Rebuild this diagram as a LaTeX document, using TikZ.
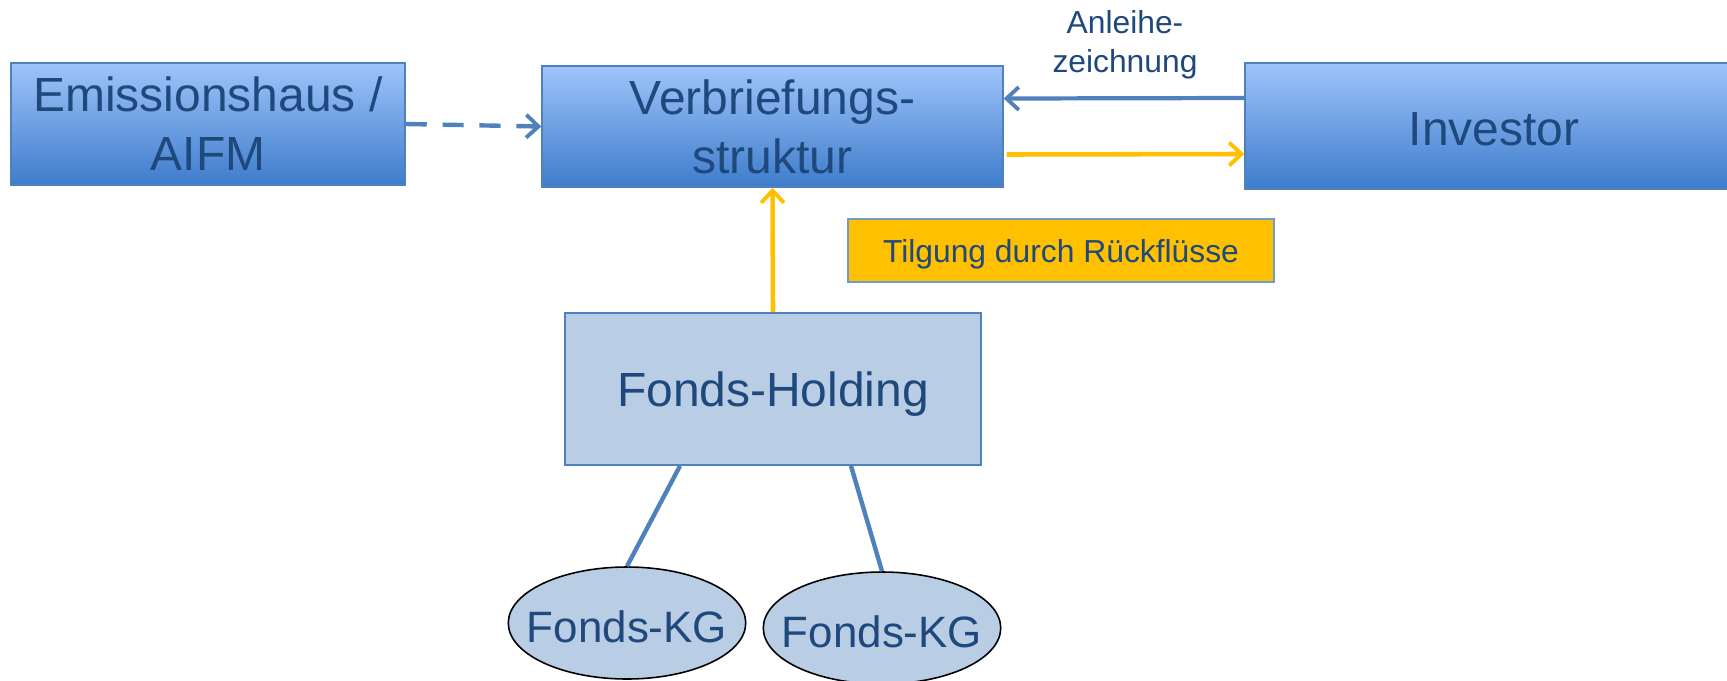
\documentclass[tikz,border=0pt]{standalone}
\usepackage{fontspec}
\setmainfont{Liberation Sans}
\usetikzlibrary{arrows.meta,shapes.geometric}
\definecolor{txt}{HTML}{1F497D}
\definecolor{accent}{HTML}{4F81BD}
\definecolor{gold}{HTML}{FFC000}
\definecolor{pale}{HTML}{B9CDE5}
\definecolor{gradtop}{HTML}{9EC4FA}
\definecolor{gradbot}{HTML}{3E7CCB}
\tikzset{
  bigtext/.style={font=\fontsize{27.3}{33.5}\selectfont, text=txt},
  gradbox/.style={rectangle, draw=accent, line width=0.8pt, top color=gradtop, bottom color=gradbot, inner sep=0pt, bigtext, align=center},
  palebox/.style={rectangle, draw=accent, line width=1pt, fill=pale, inner sep=0pt, bigtext},
  kgnode/.style={ellipse, draw=black, line width=0.9pt, fill=pale, inner sep=0pt,
    minimum width=4.75cm, minimum height=2.24cm, text=txt, font=\fontsize{25}{30}\selectfont,
    text height=22.2pt, text depth=0pt},
  notebox/.style={rectangle, draw=accent!80, line width=1pt, fill=gold, inner sep=0pt,
    minimum width=8.52cm, minimum height=1.26cm, text=txt, font=\fontsize{18.1}{22}\selectfont},
  tip/.style={-{Straight Barb[length=7pt,width=13pt,line width=2.2pt]}},
  bluearrow/.style={tip, draw=accent, line width=2.4pt},
  goldarrow/.style={tip, draw=gold, line width=2.6pt},
  dasharrow/.style={tip, draw=accent, line width=2.5pt, dash pattern=on 12pt off 9pt},
  link/.style={draw=accent, line width=2.5pt},
}
\begin{document}
\begin{tikzpicture}[x=0.02cm, y=-0.02cm]
\clip (0,0) rectangle (1727,680);

% top row
\node[gradbox, minimum width=7.88cm, minimum height=2.44cm] (E) at (208,124) {Emissionshaus /\\AIFM};
\node[gradbox, minimum width=9.22cm, minimum height=2.42cm] (V) at (772.5,126.5) {Verbriefungs-\\struktur};
\node[gradbox, minimum width=9.96cm, minimum height=2.52cm, text height=22.4pt, text depth=0pt] (I) at (1494,126) {Investor};
\node[text=txt, align=center, font=\fontsize{18.1}{22.1}\selectfont] (A) at (1125,44.5) {Anleihe-\\zeichnung};

% repayment note and holding
\node[notebox, text depth=0pt] (T) at (1061,250.5) {Tilgung durch Rückflüsse};
\node[palebox, minimum width=8.32cm, minimum height=3.04cm, text depth=0pt] (H) at (773,389) {Fonds-Holding};

% fund partnerships
\node[kgnode] (K1) at (627,623) {\makebox[0pt]{Fonds-KG}};
\node[kgnode] (K2) at (882,628) {\makebox[0pt]{Fonds-KG}};

% connectors
\draw[dasharrow] (E.east) -- (V.west);
\draw[bluearrow] ([yshift=0.56cm]I.west) -- ([yshift=0.56cm]V.east);
\draw[goldarrow] ([yshift=-0.56cm,xshift=0.06cm]V.east) -- ([yshift=-0.56cm]I.west);
\draw[goldarrow] (H.north) -- (V.south);
\draw[link] ([xshift=-1.86cm]H.south) -- (K1.north);
\draw[link] ([xshift=1.56cm]H.south) -- (K2.north);
\end{tikzpicture}
\end{document}
